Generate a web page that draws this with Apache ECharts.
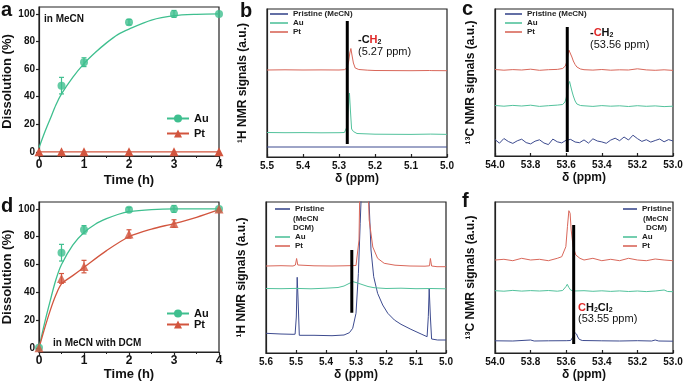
<!DOCTYPE html>
<html><head><meta charset="utf-8">
<script src="https://cdn.jsdelivr.net/npm/echarts@6/dist/echarts.min.js"></script>
<style>html,body{margin:0;padding:0;background:#fff}#c{width:692px;height:385px}</style>
</head><body><div id="c"></div>
<script>
// ---------- Panel a (in MeCN) ----------
const aAuT = [0.5, 1, 2, 3, 4];
const aAuV = [48, 65, 94, 100, 100];
const aAuE = [6, 3.2, 2, 2.5, 0];
const aPtT = [0, 0.5, 1, 2, 3, 4];
const aPtV = [0, 0, 0, 0, 0, 0];
const aAuFitT = [0, 0.125, 0.25, 0.375, 0.5, 0.75, 1, 1.25, 1.5, 1.75, 2, 2.5, 3, 3.5, 4];
const aAuFitV = [3, 14, 24, 34, 42, 54, 64, 72, 79, 85, 89, 95.5, 98.7, 99.7, 100];
// ---------- Panel d (in MeCN with DCM) ----------
const dAuT = [0, 0.5, 1, 2, 3, 4];
const dAuV = [0, 68.5, 85, 99.5, 100, 100];
const dAuE = [0, 6, 3, 1.5, 2.5, 0];
const dPtT = [0, 0.5, 1, 2, 3, 4];
const dPtV = [0, 50, 58.5, 82, 89.5, 100];
const dPtE = [0, 3.5, 4.5, 3, 2.7, 0];
const dAuFitT = [0, 0.125, 0.25, 0.375, 0.5, 0.75, 1, 1.25, 1.5, 1.75, 2, 2.5, 3, 3.5, 4];
const dAuFitV = [0, 18, 34, 49, 60, 74, 83, 89, 93, 96, 98, 99.5, 100, 100, 100];
const dPtFitT = [0, 0.125, 0.25, 0.375, 0.5, 0.75, 1, 1.5, 2, 2.5, 3, 3.5, 4];
const dPtFitV = [0, 14, 27, 38, 46, 52, 58, 70, 80, 85.5, 89.5, 94, 99.5];
const timeTicks = [0, 1, 2, 3, 4];
const pctTicks = [0, 20, 40, 60, 80, 100];

// ---------- Panel b: 1H NMR, MeCN ----------
const bPristine = [[5.5, 10], [5.3, 10], [5.0, 10]];
const bAu = [[5.5,24.5],[5.45,24.3],[5.4,24.4],[5.35,24.2],[5.3,24.3],[5.285,24.5],[5.278,30],[5.274,50],[5.271,64],[5.268,45],[5.265,28],[5.26,25.5],[5.25,23.5],[5.2,22.8],[5.15,22.7],[5.1,22.6],[5.045,22.9],[5.04,22.6],[5.0,22.6]];
const bPt = [[5.5,87],[5.45,87.2],[5.4,87],[5.35,87.1],[5.3,87],[5.285,87.3],[5.278,89],[5.273,96],[5.27,104],[5.267,108.5],[5.264,102],[5.26,94],[5.255,89],[5.245,87.5],[5.22,86.8],[5.2,86.5],[5.15,86.4],[5.1,86.3],[5.048,86.5],[5.045,87.3],[5.042,86.4],[5.0,86.3]];
const bBar = [[5.277, 13], [5.277, 136]];

// ---------- Panel c: 13C NMR, MeCN ----------
const cPristineX = [54.0,53.975,53.95,53.925,53.9,53.875,53.85,53.825,53.8,53.775,53.75,53.725,53.7,53.675,53.65,53.625,53.6,53.575,53.55,53.525,53.5,53.475,53.45,53.425,53.4,53.375,53.35,53.325,53.3,53.275,53.25,53.225,53.2,53.175,53.15,53.125,53.1,53.075,53.05,53.025,53.0];
const cPristineY = [16.5,12.8,17.5,14.5,12.6,15.2,16.8,13.4,12.1,14.8,16.2,13.0,11.4,16.9,14.2,13.1,15.8,16.6,14.0,13.3,16.1,12.9,17.2,15.0,14.1,12.7,15.9,17.8,15.3,19.0,16.0,20.8,17.4,14.6,16.3,13.9,15.5,17.0,14.2,16.4,15.0];
const cAu = [[54.0,50.5],[53.95,49.8],[53.9,50.6],[53.85,50.0],[53.8,50.8],[53.75,49.6],[53.7,50.3],[53.65,50.9],[53.62,51.5],[53.607,54],[53.6,58],[53.594,64],[53.587,72],[53.581,74.5],[53.575,70],[53.568,65],[53.56,60],[53.55,55],[53.54,52],[53.52,50.5],[53.5,50.2],[53.45,49.6],[53.4,50.4],[53.35,49.8],[53.3,50.2],[53.25,49.5],[53.2,50.3],[53.15,49.7],[53.1,50.1],[53.05,49.4],[53.0,49.8]];
const cPt = [[54.0,86.5],[53.95,85.8],[53.9,86.4],[53.85,86.0],[53.8,86.8],[53.75,85.7],[53.7,86.3],[53.65,86.6],[53.62,87.5],[53.605,90],[53.597,94],[53.59,101],[53.585,106],[53.58,107.5],[53.575,104],[53.568,99],[53.56,95],[53.55,91.5],[53.54,89],[53.52,87],[53.5,86.3],[53.45,85.9],[53.4,86.5],[53.35,85.8],[53.3,86.2],[53.25,86.0],[53.2,87.2],[53.15,86.1],[53.1,85.7],[53.05,86.2],[53.0,85.6]];
const cBar = [[53.594, 4], [53.594, 129]];

// ---------- Panel e: 1H NMR, MeCN with DCM ----------
const ePristine = [[5.6,19.7],[5.55,19],[5.51,18.7],[5.503,18.8],[5.499,36],[5.496,75.7],[5.493,53],[5.489,17.7],[5.44,17.7],[5.38,17.3],[5.34,18],[5.322,20.3],[5.311,24.7],[5.3,39.7],[5.292,79.7],[5.286,129.7],[5.281,170],[5.27,200],[5.259,170],[5.25,103],[5.241,76.3],[5.228,59.7],[5.211,48],[5.194,39.7],[5.172,33],[5.15,28.7],[5.117,23.7],[5.083,19],[5.063,16.3],[5.059,36.3],[5.056,64],[5.052,36],[5.048,14],[5.028,13],[5.0,13]];
const eAu = [[5.6,64.5],[5.55,64.3],[5.5,64.6],[5.45,64.2],[5.4,64.8],[5.36,65.5],[5.34,67],[5.32,70],[5.31,71.3],[5.3,70.5],[5.28,68.5],[5.26,66.5],[5.24,65.3],[5.2,64.5],[5.15,64.8],[5.1,64.3],[5.05,64.5],[5.0,64.2]];
const ePt = [[5.6,87],[5.55,87.3],[5.51,87],[5.502,88],[5.498,94.5],[5.494,88],[5.49,87],[5.44,87.2],[5.38,87],[5.34,87.2],[5.3,87.5],[5.294,88],[5.29,113],[5.287,170],[5.26,170],[5.256,133],[5.244,106],[5.228,94.7],[5.206,89.7],[5.17,87.8],[5.12,87],[5.07,86.8],[5.055,87.2],[5.052,94.5],[5.048,87],[5.03,86.3],[5.0,86.3]];
const eBar = [[5.314, 40.3], [5.314, 103]];

// ---------- Panel f: 13C NMR, MeCN with DCM ----------
const fPristine = [[54.0,12.2],[53.9,12],[53.8,13],[53.78,12],[53.7,12.2],[53.6,12.3],[53.575,12.5],[53.566,14],[53.561,16.3],[53.555,21],[53.551,23],[53.546,20.5],[53.542,19],[53.535,16],[53.527,13.7],[53.51,12.5],[53.4,12.2],[53.3,12],[53.2,12.3],[53.12,12],[53.1,13],[53.08,12],[53.0,11.8]];
const fAu = [[54.0,62.3],[53.95,61.8],[53.9,62.6],[53.85,61.9],[53.8,62.4],[53.75,62],[53.7,62.5],[53.65,61.8],[53.62,62.5],[53.61,63.5],[53.602,66.3],[53.594,68.7],[53.585,65.5],[53.575,63],[53.56,62],[53.5,62.3],[53.45,61.7],[53.4,62.2],[53.35,61.6],[53.3,62.1],[53.25,61.5],[53.2,62],[53.15,61.4],[53.1,62],[53.05,63],[53.03,61.5],[53.0,61.3]];
const fPt = [[54.0,93],[53.95,93.7],[53.9,92.3],[53.85,94.7],[53.8,93],[53.75,93.7],[53.7,92.3],[53.65,94.7],[53.625,96.3],[53.617,98],[53.602,106.3],[53.593,126.3],[53.585,142.3],[53.578,139.7],[53.572,123],[53.561,106.3],[53.546,98],[53.523,94.7],[53.5,93],[53.45,94.7],[53.4,92.3],[53.35,93.7],[53.3,92.3],[53.25,94.7],[53.2,93],[53.15,92.3],[53.1,94],[53.05,93],[53.0,92.3]];
const fBar = [[53.558, 9], [53.558, 128]];

// ---------- styling ----------
const FONT = "'Liberation Sans', Arial, sans-serif";
const AXC = '#222';
const G = '#3fbf8f', R = '#d2553e';
const SB = '#3d4b8f', SG = '#52c29c', SR = '#d9675a';
const zip = (xs, ys) => xs.map((x, i) => [x, ys[i]]);

const chart = echarts.init(document.getElementById('c'), null, {renderer: 'canvas'});

function kinX(gi, gap) {
  return {type: 'value', gridIndex: gi, min: 0, max: 4, interval: 1,
    axisLine: {show: true, onZero: false, lineStyle: {color: AXC, width: 1.2}},
    axisTick: {show: true, length: 3, lineStyle: {color: AXC, width: 1.2}},
    minorTick: {show: true, splitNumber: 2, length: 2, lineStyle: {color: AXC}},
    splitLine: {show: false},
    axisLabel: {fontSize: 12, fontWeight: 'bold', color: '#111', margin: 3, fontFamily: FONT},
    name: 'Time (h)', nameLocation: 'middle', nameGap: gap,
    nameTextStyle: {fontSize: 13, fontWeight: 'bold', color: '#111', fontFamily: FONT}};
}
function kinY(gi, mn) {
  return {type: 'value', gridIndex: gi, min: mn, max: 105,
    axisLine: {show: true, onZero: false, lineStyle: {color: AXC, width: 1.2}},
    axisTick: {show: true, length: 3, customValues: pctTicks, lineStyle: {color: AXC, width: 1.2}},
    splitLine: {show: false},
    axisLabel: {customValues: pctTicks, fontSize: 10, fontWeight: 'bold', color: '#111', margin: 4, fontFamily: FONT},
    name: 'Dissolution (%)', nameLocation: 'middle', nameGap: 22,
    nameTextStyle: {fontSize: 13, fontWeight: 'bold', color: '#111', fontFamily: FONT}};
}
function nmrX(gi, mn, mx, iv) {
  return {type: 'value', gridIndex: gi, min: mn, max: mx, interval: iv, inverse: true,
    axisLine: {show: true, onZero: false, lineStyle: {color: AXC, width: 1.2}},
    axisTick: {show: true, inside: true, length: 3, lineStyle: {color: AXC, width: 1.2}},
    splitLine: {show: false},
    axisLabel: {fontSize: 10, fontWeight: 'bold', color: '#111', margin: 4, fontFamily: FONT,
      formatter: v => v.toFixed(1)},
    name: 'δ (ppm)', nameLocation: 'middle', nameGap: 16,
    nameTextStyle: {fontSize: 12, fontWeight: 'bold', color: '#111', fontFamily: FONT}};
}
function nmrY(gi, mx, nm) {
  return {type: 'value', gridIndex: gi, min: 0, max: mx,
    axisLine: {show: true, onZero: false, lineStyle: {color: AXC, width: 1.2}},
    axisTick: {show: false}, axisLabel: {show: false}, splitLine: {show: false},
    name: nm, nameLocation: 'middle', nameGap: 18,
    nameTextStyle: {fontSize: 12, fontWeight: 'bold', color: '#111', fontFamily: FONT}};
}
function errSeries(ai, t, v, e, color) {
  const d = [];
  t.forEach((x, i) => { if (e[i] > 0) d.push([x, v[i] - e[i], v[i] + e[i]]); });
  return {type: 'custom', xAxisIndex: ai, yAxisIndex: ai, data: d, silent: true, z: 2,
    encode: {x: 0, y: [1, 2]},
    renderItem(params, api) {
      const lo = api.coord([api.value(0), api.value(1)]);
      const hi = api.coord([api.value(0), api.value(2)]);
      const w = 2.5, st = {stroke: color, lineWidth: 1.2};
      return {type: 'group', children: [
        {type: 'line', shape: {x1: lo[0], y1: lo[1], x2: hi[0], y2: hi[1]}, style: st},
        {type: 'line', shape: {x1: lo[0] - w, y1: lo[1], x2: lo[0] + w, y2: lo[1]}, style: st},
        {type: 'line', shape: {x1: hi[0] - w, y1: hi[1], x2: hi[0] + w, y2: hi[1]}, style: st}]};
    }};
}
function spec(name, ai, data, color) {
  return {name, type: 'line', xAxisIndex: ai, yAxisIndex: ai, data, symbol: 'none',
    lineStyle: {color, width: 1}, itemStyle: {color}, z: 3};
}
function bar(ai, data) {
  return {type: 'line', xAxisIndex: ai, yAxisIndex: ai, data, symbol: 'none', silent: true,
    lineStyle: {color: '#000', width: 3}, z: 5};
}
const lblFmt = n => n.split('-')[1];
function kinLegend(names, left, top, gap) {
  return {data: names, orient: 'vertical', left, top, itemWidth: 22, itemHeight: 10, itemGap: gap,
    itemTextGap: 3, padding: 0, formatter: lblFmt, selectedMode: false,
    textStyle: {fontSize: 11, fontWeight: 'bold', color: '#111', fontFamily: FONT}};
}
function nmrLegend(names, left, top, w, tg) {
  return {data: names, orient: 'vertical', left, top, itemWidth: w, itemHeight: 1.6, itemGap: 1,
    itemTextGap: tg, padding: 0, icon: 'rect', formatter: lblFmt, selectedMode: false,
    textStyle: {fontSize: 8, fontWeight: 'bold', color: '#222', fontFamily: FONT}};
}
function txt(x, y, text, size, weight, color) {
  return {type: 'text', style: {x, y, text, fill: color || '#111', font: `${weight || 'bold'} ${size}px ${FONT}`,
    textVerticalAlign: 'middle', verticalAlign: 'middle'}};
}
function chLabel(x, y, parts) {
  return {type: 'text', style: {x, y, text: parts, verticalAlign: 'middle', textVerticalAlign: 'middle',
    rich: {
      n: {fill: '#111', fontSize: 11, fontWeight: 'bold', fontFamily: FONT},
      r: {fill: '#e02828', fontSize: 11, fontWeight: 'bold', fontFamily: FONT},
      s: {fill: '#111', fontSize: 7, fontWeight: 'bold', fontFamily: FONT, verticalAlign: 'bottom', padding: [5, 0, 0, 0]}
    }}};
}

const gridBase = {show: true, borderColor: AXC, borderWidth: 1.2, backgroundColor: 'transparent'};
const option = {
  animation: false,
  backgroundColor: '#fff',
  grid: [
    {left: 39, top: 7, width: 180, height: 149},
    {left: 267, top: 9, width: 180, height: 148},
    {left: 495, top: 9, width: 178, height: 147},
    {left: 39, top: 202, width: 180, height: 150},
    {left: 266, top: 202, width: 180, height: 151},
    {left: 495, top: 202, width: 178, height: 151}
  ].map(g => Object.assign({}, gridBase, g)),
  xAxis: [kinX(0, 18), nmrX(1, 5.0, 5.5, 0.1), nmrX(2, 53.0, 54.0, 0.2),
          kinX(3, 13), nmrX(4, 5.0, 5.6, 0.1), nmrX(5, 53.0, 54.0, 0.2)],
  yAxis: [kinY(0, -3), nmrY(1, 148, '¹H NMR signals (a.u.)'), nmrY(2, 147, '¹³C NMR signals (a.u.)'),
          kinY(3, -3), nmrY(4, 151, '¹H NMR signals (a.u.)'), nmrY(5, 151, '¹³C NMR signals (a.u.)')],
  legend: [
    kinLegend(['a-Au', 'a-Pt'], 166, 113, 4),
    kinLegend(['d-Au', 'd-Pt'], 166, 308, 0),
    nmrLegend(['b-Pristine (MeCN)', 'b-Au', 'b-Pt'], 270, 10, 18, 3),
    nmrLegend(['c-Pristine (MeCN)', 'c-Au', 'c-Pt'], 505, 10, 17, 2),
    nmrLegend(['e-Pristine'], 275, 205, 15, 3),
    nmrLegend(['e-Au', 'e-Pt'], 275, 233, 15, 3),
    nmrLegend(['f-Pristine'], 623, 205, 14, 5),
    nmrLegend(['f-Au', 'f-Pt'], 623, 233, 14, 5)
  ],
  series: [
    // a
    {name: 'a-Au', type: 'line', xAxisIndex: 0, yAxisIndex: 0, data: zip(aAuFitT, aAuFitV), smooth: 0.3,
      showSymbol: false, symbol: 'circle', symbolSize: 8, lineStyle: {color: G, width: 1.3}, itemStyle: {color: G}, z: 3},
    errSeries(0, aAuT, aAuV, aAuE, G),
    {name: 'a-Au pts', type: 'scatter', xAxisIndex: 0, yAxisIndex: 0, data: zip(aAuT, aAuV), symbol: 'circle', symbolSize: 8, itemStyle: {color: G}, z: 4},
    {name: 'a-Pt', type: 'line', xAxisIndex: 0, yAxisIndex: 0, data: zip(aPtT, aPtV), symbol: 'triangle', symbolSize: 9,
      showSymbol: true, lineStyle: {color: R, width: 1.3}, itemStyle: {color: R}, z: 4},
    // d
    {name: 'd-Au', type: 'line', xAxisIndex: 3, yAxisIndex: 3, data: zip(dAuFitT, dAuFitV), smooth: 0.3,
      showSymbol: false, symbol: 'circle', symbolSize: 8, lineStyle: {color: G, width: 1.3}, itemStyle: {color: G}, z: 3},
    {name: 'd-Pt', type: 'line', xAxisIndex: 3, yAxisIndex: 3, data: zip(dPtFitT, dPtFitV), smooth: 0.3,
      showSymbol: false, symbol: 'triangle', symbolSize: 9, lineStyle: {color: R, width: 1.3}, itemStyle: {color: R}, z: 3},
    errSeries(3, dAuT, dAuV, dAuE, G),
    errSeries(3, dPtT, dPtV, dPtE, R),
    {name: 'd-Au pts', type: 'scatter', xAxisIndex: 3, yAxisIndex: 3, data: zip(dAuT, dAuV), symbol: 'circle', symbolSize: 8, itemStyle: {color: G}, z: 4},
    {name: 'd-Pt pts', type: 'scatter', xAxisIndex: 3, yAxisIndex: 3, data: zip(dPtT, dPtV), symbol: 'triangle', symbolSize: 9, itemStyle: {color: R}, z: 4},
    // b
    spec('b-Pristine (MeCN)', 1, bPristine, SB), spec('b-Au', 1, bAu, SG), spec('b-Pt', 1, bPt, SR), bar(1, bBar),
    // c
    spec('c-Pristine (MeCN)', 2, zip(cPristineX, cPristineY), SB), spec('c-Au', 2, cAu, SG), spec('c-Pt', 2, cPt, SR), bar(2, cBar),
    // e
    spec('e-Pristine', 4, ePristine, SB), spec('e-Au', 4, eAu, SG), spec('e-Pt', 4, ePt, SR), bar(4, eBar),
    // f
    spec('f-Pristine', 5, fPristine, SB), spec('f-Au', 5, fAu, SG), spec('f-Pt', 5, fPt, SR), bar(5, fBar)
  ],
  graphic: [
    txt(1, 10, 'a', 20), txt(240, 11, 'b', 20), txt(462, 9, 'c', 20), txt(1, 206, 'd', 20), txt(462, 201, 'f', 20),
    txt(44, 19, 'in MeCN', 10), txt(53, 343, 'in MeCN with DCM', 10),
    chLabel(358, 40, '{n|-C}{r|H}{s|2}'), txt(358, 52, '(5.27 ppm)', 11, 'normal'),
    chLabel(590, 33, '{n|-}{r|C}{n|H}{s|2}'), txt(590, 45, '(53.56 ppm)', 11, 'normal'),
    chLabel(578, 308, '{r|C}{n|H}{s|2}{n|Cl}{s|2}'), txt(578, 319, '(53.55 ppm)', 11, 'normal'),
    txt(293, 219, '(MeCN', 8, 'bold', '#222'), txt(293, 228, 'DCM)', 8, 'bold', '#222'),
    txt(643, 219, '(MeCN', 8, 'bold', '#222'), txt(646, 228, 'DCM)', 8, 'bold', '#222')
  ]
};
chart.setOption(option);
</script></body></html>
